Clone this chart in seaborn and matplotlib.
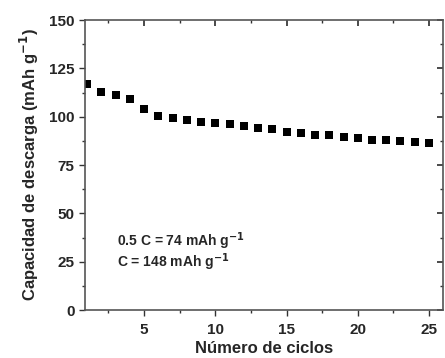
import numpy as np
import pandas as pd
import matplotlib
matplotlib.use("Agg")
import matplotlib.pyplot as plt
import seaborn as sns
from matplotlib.ticker import MultipleLocator

# datos
ciclos = list(range(1, 26))
capacidad = [117.1, 112.6, 111.3, 109.2, 104.1, 100.3, 99.4, 98.4, 97.2, 96.5,
             96.0, 95.0, 94.1, 93.8, 92.1, 91.5, 90.5, 90.3, 89.3, 88.8,
             88.1, 88.1, 87.4, 86.9, 86.6]
df = pd.DataFrame({"ciclo": ciclos, "capacidad": capacidad})

sns.set_theme(style="ticks")
plt.rcParams['font.family'] = ['Liberation Sans', 'DejaVu Sans']
plt.rcParams['font.weight'] = 'bold'
plt.rcParams['mathtext.default'] = 'bf'

fig = plt.figure(figsize=(4.45, 3.58), dpi=100)
ax = fig.add_axes([0.191, 0.134, 0.805, 0.810])

sns.scatterplot(data=df, x="ciclo", y="capacidad", ax=ax, marker="s",
                s=26, color="black", edgecolor="black", linewidth=0)

ax.set_xlim(0.85, 26.0)
ax.set_ylim(0, 150)
ax.xaxis.set_major_locator(MultipleLocator(5))
ax.xaxis.set_minor_locator(MultipleLocator(2.5))
ax.yaxis.set_major_locator(MultipleLocator(25))
ax.yaxis.set_minor_locator(MultipleLocator(12.5))
ax.set_xticks([5, 10, 15, 20, 25])

for sp in ax.spines.values():
    sp.set_visible(True)
    sp.set_color("#555555")
    sp.set_linewidth(1.2)

ax.tick_params(which="both", direction="out", color="#333333", labelsize=11,
               top=False, right=False)
ax.tick_params(which="major", length=4, width=1)
ax.tick_params(which="minor", length=2.5, width=1)
ax.tick_params(axis="x", pad=5)
for lab in ax.get_xticklabels() + ax.get_yticklabels():
    lab.set_fontweight("bold")

# ticks interiores en los ejes superior y derecho
top = ax.secondary_xaxis("top")
top.xaxis.set_major_locator(MultipleLocator(5))
top.xaxis.set_minor_locator(MultipleLocator(2.5))
top.tick_params(which="both", direction="in", labeltop=False, color="#333333")
top.tick_params(which="major", length=4)
top.tick_params(which="minor", length=2.5)
right = ax.secondary_yaxis("right")
right.yaxis.set_major_locator(MultipleLocator(25))
right.yaxis.set_minor_locator(MultipleLocator(12.5))
right.tick_params(which="both", direction="in", labelright=False, color="#333333")
right.tick_params(which="major", length=4)
right.tick_params(which="minor", length=2.5)
top.spines["top"].set_visible(False)
right.spines["right"].set_visible(False)

ax.set_xlabel("Número de ciclos", fontsize=12, fontweight="bold", labelpad=3)
ax.set_ylabel("Capacidad de descarga (mAh g$^{-1}$)", fontsize=12,
              fontweight="bold", labelpad=6)

ax.text(3.1, 35.5, "0.5 C = 74 mAh g$^{-1}$", fontsize=10, fontweight="bold",
        va="center", ha="left")
ax.text(3.1, 24.7, "C = 148 mAh g$^{-1}$", fontsize=10, fontweight="bold",
        va="center", ha="left")

fig.savefig("out.png", dpi=100)
